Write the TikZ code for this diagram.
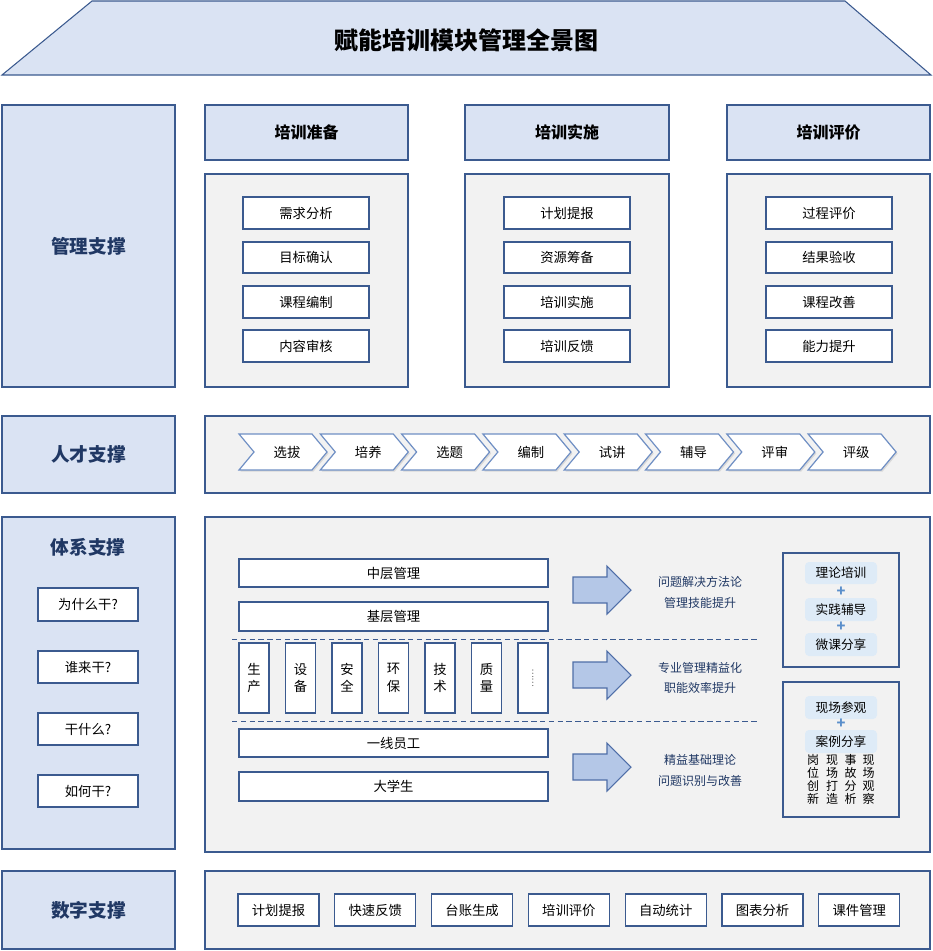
\documentclass[tikz,border=0pt]{standalone}
\usepackage{fontspec}
\setmainfont{Noto Sans CJK SC}
\definecolor{bd}{HTML}{3B5A8F}
\definecolor{chb}{HTML}{6F8FC4}
\definecolor{lb}{HTML}{DAE3F3}
\definecolor{gy}{HTML}{F2F2F2}
\definecolor{nv}{HTML}{203864}
\definecolor{ar}{HTML}{B4C7E7}
\definecolor{arb}{HTML}{4F6EA8}
\definecolor{pl}{HTML}{DEEBF7}
\definecolor{ps}{HTML}{5B8FCB}
\newcommand\bxn[7]{\node[#6, minimum width={(#4-#2)*0.75pt}, minimum height={(#5-#3)*0.75pt}] (#1) at ({(#2+#4)/2},{(#3+#5)/2}) {#7};}
\tikzset{
  base/.style={draw=bd, line width=0.8pt, inner sep=0pt, outer sep=0pt},
  side/.style={base, fill=lb},
  sidetxt/.style={font=\fontsize{14}{16}\selectfont\bfseries, text=nv, inner sep=0pt},
  head/.style={base, fill=lb, font=\fontsize{12}{14}\selectfont\bfseries},
  panel/.style={base, fill=gy},
  item/.style={base, fill=white, font=\fontsize{10}{12}\selectfont},
  vitem/.style={base, fill=white, font=\fontsize{10}{13}\selectfont, align=center},
  chev/.style={draw=chb, line width=0.9pt, fill=white},
  chevtxt/.style={font=\fontsize{10}{12}\selectfont, inner sep=0pt},
  blockarrow/.style={draw=arb, line width=0.8pt, fill=ar},
  arrtxt/.style={font=\fontsize{9}{11}\selectfont, text=nv, inner sep=0pt},
  pill/.style={fill=pl, rounded corners=3pt, inner sep=0pt, outer sep=0pt, font=\fontsize{9.5}{11}\selectfont},
  plus/.style={text=ps, font=\fontsize{11}{11}\selectfont\bfseries, inner sep=0pt},
  gridtxt/.style={font=\fontsize{9}{9.8}\selectfont, align=center, inner sep=0pt},
  sep/.style={draw=bd, line width=0.7pt, dash pattern=on 4pt off 2.6pt}
}
\begin{document}
\begin{tikzpicture}[x=0.75pt, y=-0.75pt]
\useasboundingbox (0,0) rectangle (933,951);
% title
\draw[base, fill=lb] (92,1) -- (845,1) -- (931,75) -- (2,75) -- cycle;
\node[font=\fontsize{18}{20}\selectfont\bfseries, inner sep=0pt] (title) at (466,40) {赋能培训模块管理全景图};

% left column
\bxn{s1}{2}{105}{175}{387}{side}{}
\node[sidetxt] (s1t) at (s1) {管理支撑};
\bxn{s2}{2}{416}{175}{493}{side}{}
\node[sidetxt] (s2t) at (s2) {人才支撑};
\bxn{s3}{2}{517}{175}{849}{side}{}
\node[sidetxt] (s3t) at (88,547) {体系支撑};
\bxn{s4}{2}{871}{175}{949}{side}{}
\node[sidetxt] (s4t) at (s4) {数字支撑};

% management
\bxn{h1}{205}{105}{408}{160}{head}{培训准备}
\bxn{h2}{465}{105}{669}{160}{head}{培训实施}
\bxn{h3}{727}{105}{930}{160}{head}{培训评价}
\bxn{p1}{205}{174}{408}{387}{panel}{}
\bxn{p2}{465}{174}{669}{387}{panel}{}
\bxn{p3}{727}{174}{930}{387}{panel}{}
\bxn{a1}{243}{197}{369}{229}{item}{需求分析}
\bxn{a2}{243}{242}{369}{273}{item}{目标确认}
\bxn{a3}{243}{286}{369}{318}{item}{课程编制}
\bxn{a4}{243}{330}{369}{362}{item}{内容审核}
\bxn{b1}{504}{197}{630}{229}{item}{计划提报}
\bxn{b2}{504}{242}{630}{273}{item}{资源筹备}
\bxn{b3}{504}{286}{630}{318}{item}{培训实施}
\bxn{b4}{504}{330}{630}{362}{item}{培训反馈}
\bxn{e1}{766}{197}{892}{229}{item}{过程评价}
\bxn{e2}{766}{242}{892}{273}{item}{结果验收}
\bxn{e3}{766}{286}{892}{318}{item}{课程改善}
\bxn{e4}{766}{330}{892}{362}{item}{能力提升}

% talent
\bxn{p4}{205}{416}{930}{493}{panel}{}
\foreach \i/\t in {0/选拔,1/培养,2/选题,3/编制,4/试讲,5/辅导,6/评审,7/评级}{
  \pgfmathsetmacro\xo{239+\i*81.3}
  \fill[gray!30] ({\xo+1.5},435.5) -- ({\xo+74.5},435.5) -- ({\xo+89.5},453.5) -- ({\xo+74.5},471.5) -- ({\xo+1.5},471.5) -- ({\xo+16.5},453.5) -- cycle;
  \draw[chev] (\xo,434) -- ({\xo+73},434) -- ({\xo+88},452) -- ({\xo+73},470) -- (\xo,470) -- ({\xo+15},452) -- cycle;
  \node[chevtxt] (c\i) at ({\xo+48},452) {\t};
}

% system
\bxn{q1}{38}{588}{138}{621}{item}{为什么干?}
\bxn{q2}{38}{651}{138}{683}{item}{谁来干?}
\bxn{q3}{38}{713}{138}{745}{item}{干什么?}
\bxn{q4}{38}{775}{138}{807}{item}{如何干?}
\bxn{p5}{205}{517}{930}{852}{panel}{}
\bxn{m1}{239}{559}{548}{587}{item}{中层管理}
\bxn{m2}{239}{602}{548}{631}{item}{基层管理}
\coordinate (d1a) at (232,639); \coordinate (d1b) at (759,639);
\coordinate (d2a) at (232,721); \coordinate (d2b) at (759,721);
\draw[sep] (d1a) -- (d1b);
\draw[sep] (d2a) -- (d2b);
\foreach \i/\t in {0/生\\产,1/设\\备,2/安\\全,3/环\\保,4/技\\术,5/质\\量}{
  \pgfmathsetmacro\xo{239+\i*46.5}
  \bxn{v\i}{\xo}{643}{\xo+30}{713}{vitem}{\t}
}
\bxn{v6}{518}{643}{548}{713}{vitem}{}
\node[rotate=90, font=\fontsize{6.5}{7}\selectfont, inner sep=0pt, text=black!65] (vdots) at (v6) {……};
\bxn{w1}{239}{729}{548}{757}{item}{一线员工}
\bxn{w2}{239}{772}{548}{801}{item}{大学生}

\foreach \c/\n in {590/1,675/2,767/3}{
  \draw[blockarrow] (573,{\c-13}) -- (607,{\c-13}) -- (607,{\c-24}) -- (631,\c) -- (607,{\c+24}) -- (607,{\c+13}) -- (573,{\c+13}) -- cycle;
}
\node[arrtxt] (t1a) at (700,582) {问题解决方法论};
\node[arrtxt] (t1b) at (700,603) {管理技能提升};
\node[arrtxt] (t2a) at (700,668) {专业管理精益化};
\node[arrtxt] (t2b) at (700,688) {职能效率提升};
\node[arrtxt] (t3a) at (700,760) {精益基础理论};
\node[arrtxt] (t3b) at (700,781) {问题识别与改善};

\bxn{r1}{783}{553}{899}{667}{panel}{}
\bxn{r2}{783}{682}{899}{817}{panel}{}
\bxn{k1}{805}{562}{877}{584}{pill}{理论培训}
\node[plus] (k1p) at (841,592) {+};
\bxn{k2}{805}{598}{877}{621}{pill}{实践辅导}
\node[plus] (k2p) at (841,627) {+};
\bxn{k3}{805}{633}{877}{656}{pill}{微课分享}
\bxn{k4}{805}{696}{877}{719}{pill}{现场参观}
\node[plus] (k4p) at (841,724) {+};
\bxn{k5}{805}{730}{877}{753}{pill}{案例分享}
\node[gridtxt] (g1) at (813,779.5) {岗\\位\\创\\新};
\node[gridtxt] (g2) at (832,779.5) {现\\场\\打\\造};
\node[gridtxt] (g3) at (850.5,779.5) {事\\故\\分\\析};
\node[gridtxt] (g4) at (868.5,779.5) {现\\场\\观\\察};

% digital
\bxn{p6}{205}{871}{930}{949}{panel}{}
\foreach \i/\t in {0/计划提报,1/快速反馈,2/台账生成,3/培训评价,4/自动统计,5/图表分析,6/课件管理}{
  \pgfmathsetmacro\xo{238+\i*96.8}
  \bxn{dg\i}{\xo}{894}{\xo+81}{926}{item}{\t}
}
\end{tikzpicture}
\end{document}
